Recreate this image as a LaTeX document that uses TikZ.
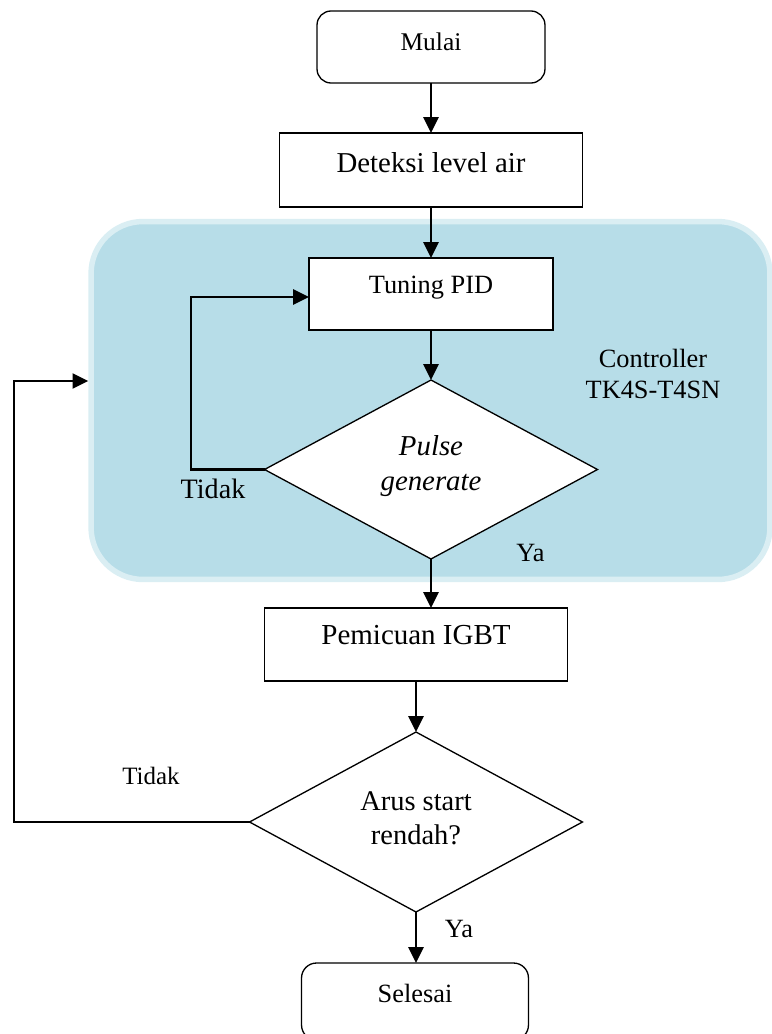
\documentclass[tikz,border=0pt]{standalone}
\usepackage{fontspec}
\setmainfont{Liberation Serif}
\usetikzlibrary{arrows.meta,shapes.geometric}

\definecolor{ctrlfill}{RGB}{183,221,232}
\definecolor{ctrledge}{RGB}{218,238,243}

\newcommand{\fs}[2]{\fontsize{#1}{#2}\selectfont}

\begin{document}
\begin{tikzpicture}[x=0.02cm, y=-0.02cm,
  box/.style={draw, fill=white, line width=0.75pt, inner sep=0pt, outer sep=0pt},
  term/.style={box, rounded corners=0.28cm},
  decision/.style={draw, fill=white, line width=0.75pt, diamond, inner sep=0pt, outer sep=0pt},
  flow/.style={line width=1.5pt, -{Triangle[length=9pt,width=8.5pt]}},
  lbl/.style={inner sep=0pt}
]
\useasboundingbox (0,0) rectangle (771,1034);

% controller region
\node[fill=ctrlfill, draw=ctrledge, line width=0.11cm, rounded corners=1.04cm,
      minimum width=13.58cm, minimum height=7.16cm, inner sep=0pt, outer sep=0.055cm]
      (ctrl) at (430.5,400.5) {};
\node[lbl, align=center, font=\fs{15pt}{17.6pt}] (ctrlname) at (653,374)
      {Controller\\TK4S-T4SN};

% process steps
\node[term, minimum width=4.56cm, minimum height=1.44cm,
      label={[font=\fs{14.5pt}{17pt}, yshift=0.1cm]center:Mulai}] (mulai) at (431,47) {};
\node[box, minimum width=6.06cm, minimum height=1.48cm,
      label={[font=\fs{16.4pt}{19pt}, yshift=0.15cm]center:Deteksi level air}] (deteksi) at (431,170) {};
\node[box, minimum width=4.88cm, minimum height=1.44cm,
      label={[font=\fs{15pt}{18pt}, yshift=0.13cm]center:Tuning PID}] (tuning) at (431,294) {};
\node[decision, minimum width=6.66cm, minimum height=3.58cm,
      label={[align=center, font=\fs{16.4pt}{19.8pt}\itshape, yshift=0.07cm]center:{Pulse\\generate}}] (d1) at (431,469.5) {};
\node[box, minimum width=6.06cm, minimum height=1.46cm,
      label={[font=\fs{16.5pt}{19pt}, yshift=0.18cm]center:Pemicuan IGBT}] (pemicuan) at (416,644.5) {};
\node[decision, minimum width=6.66cm, minimum height=3.6cm,
      label={[align=center, font=\fs{16.2pt}{19.3pt}, yshift=0.08cm]center:{Arus start\\rendah?}}] (d2) at (416,822) {};
\node[term, minimum width=4.54cm, minimum height=1.54cm, rounded corners=0.3cm,
      label={[font=\fs{15pt}{18pt}, yshift=0.17cm]center:Selesai}] (selesai) at (415,1001.5) {};

% branch labels
\node[lbl, font=\fs{16pt}{18pt}] (tidak1) at (213,489) {Tidak};
\node[lbl, font=\fs{15pt}{18pt}] (ya1) at (530.5,552.5) {Ya};
\node[lbl, font=\fs{14.2pt}{17pt}] (tidak2) at (151,776) {Tidak};
\node[lbl, font=\fs{15pt}{18pt}] (ya2) at (459,929) {Ya};

% main flow
\draw[flow] (mulai.south) -- (deteksi.north);
\draw[flow] (deteksi.south) -- (tuning.north);
\draw[flow] (tuning.south) -- (d1.north);
\draw[flow] (d1.south) -- (d1.south |- pemicuan.north);
\draw[flow] (pemicuan.south) -- (d2.north);
\draw[flow] (d2.south) -- (d2.south |- selesai.north);

% loop back to tuning
\coordinate (loop) at (191,297);
\draw[flow] (d1.west) -| (loop) -- (loop -| tuning.west);

% loop back to the controller
\coordinate (back) at (14,381);
\draw[flow] (d2.west) -| (back) -- (back -| ctrl.west);
\end{tikzpicture}
\end{document}
